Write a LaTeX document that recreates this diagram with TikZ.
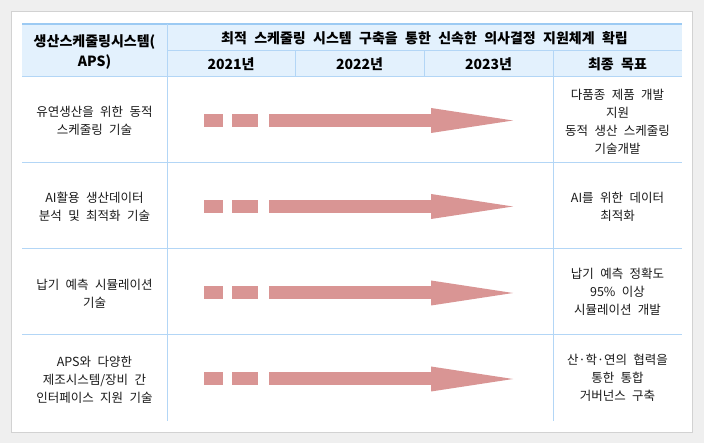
\documentclass[tikz,border=0pt]{standalone}
\usepackage{fontspec}
\setmainfont{Noto Sans CJK KR}[WordSpace=2.3]
\definecolor{bgc}{HTML}{EFEFEF}
\definecolor{panelc}{HTML}{D2D2D2}
\definecolor{hdrc}{HTML}{E3F1FD}
\definecolor{linec}{HTML}{B3D6F6}
\definecolor{topc}{HTML}{9CCAF3}
\definecolor{arrowc}{HTML}{D99594}
\definecolor{txtc}{HTML}{1A1A1A}
\tikzset{
  hdrtxt/.style={align=center, inner sep=0pt, text=black, font=\bfseries\fontsize{14}{20}\selectfont},
  bodytxt/.style={align=center, inner sep=0pt, text=txtc, font=\fontsize{12.5}{18}\selectfont},
  gridline/.style={draw=linec, line width=1pt},
  dashbox/.style={fill=arrowc, draw=none, minimum height=13pt, inner sep=0pt},
  shaftline/.style={draw=arrowc, line width=13pt},
  headfill/.style={fill=arrowc, draw=none}
}
\begin{document}
\begin{tikzpicture}[x=1pt,y=-1pt]
\useasboundingbox (0,0) rectangle (704,443);
\fill[bgc] (0,0) rectangle (704,443);
\draw[fill=white, draw=panelc, line width=1pt] (11.5,11.5) rectangle (692.5,432.5);
% header background
\fill[hdrc] (22,24) rectangle (682,77);
% grid lines
\draw[draw=topc, line width=2pt] (22,24) -- (682,24);
\draw[gridline] (167,51) -- (682,51);
\draw[gridline] (22,77) -- (682,77);
\draw[gridline] (22,163) -- (682,163);
\draw[gridline] (22,249) -- (682,249);
\draw[gridline] (22,335) -- (682,335);
\draw[gridline] (167,24) -- (167,421);
\draw[gridline] (553,51) -- (553,421);
\draw[gridline] (295,51) -- (295,77);
\draw[gridline] (424,51) -- (424,77);
% header texts
\node[hdrtxt] (h0) at (94.5,52.5) {생산스케줄링시스템(\\APS)};
\node[hdrtxt] (h1) at (424.5,38) {최적 스케줄링 시스템 구축을 통한 신속한 의사결정 지원체계 확립};
\node[hdrtxt] (y1) at (231,64.5) {2021년};
\node[hdrtxt] (y2) at (359.5,64.5) {2022년};
\node[hdrtxt] (y3) at (488.5,64.5) {2023년};
\node[hdrtxt] (g0) at (617.5,64.5) {최종 목표};
% body texts
\node[bodytxt] (l1) at (94.5,121) {유연생산을 위한 동적\\스케줄링 기술};
\node[bodytxt] (l2) at (94.5,207) {AI활용 생산데이터\\분석 및 최적화 기술};
\node[bodytxt] (l3) at (94.5,294) {납기 예측 시뮬레이션\\기술};
\node[bodytxt] (l4) at (94.5,380) {APS와 다양한\\제조시스템/장비 간\\인터페이스 지원 기술};
\node[bodytxt] (g1) at (617.5,121.5) {다품종 제품 개발\\지원\\동적 생산 스케줄링\\기술개발};
\node[bodytxt] (g2) at (617.5,207) {AI를 위한 데이터\\최적화};
\node[bodytxt] (g3) at (617.5,292) {납기 예측 정확도\\95\% 이상\\시뮬레이션 개발};
\node[bodytxt] (g4) at (617.5,378) {산·학·연의 협력을\\통한 통합\\거버넌스 구축};
% arrows
\foreach \r/\yy in {1/120.5, 2/206.5, 3/293, 4/379} {
  \node[dashbox, minimum width=19pt] (da\r) at (213.5,\yy) {};
  \node[dashbox, minimum width=26pt] (db\r) at (245,\yy) {};
  \coordinate (s\r) at (269,\yy);
  \coordinate (b\r) at (431,\yy);
  \coordinate (e\r) at (513,\yy);
  \draw[shaftline] (s\r) -- (b\r);
  \fill[headfill] ([yshift=12.5pt]b\r) -- (e\r) -- ([yshift=-12.5pt]b\r) -- cycle;
}
\end{tikzpicture}
\end{document}
